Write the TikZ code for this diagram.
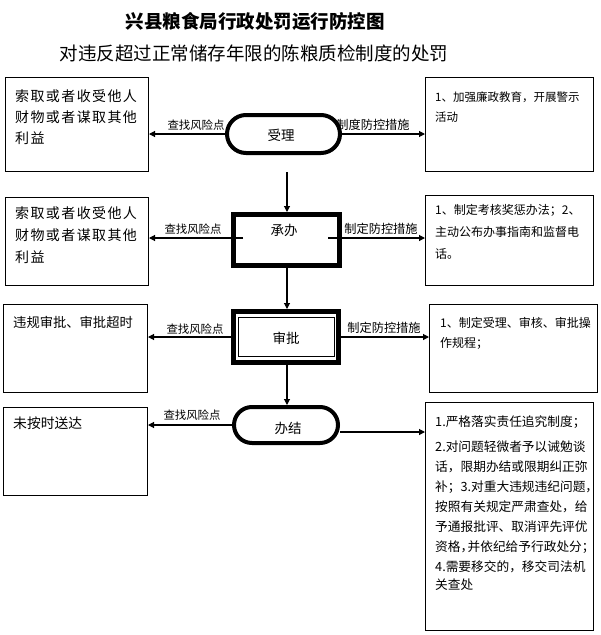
\documentclass[tikz,border=0pt]{standalone}
\usepackage{fontspec}
\setmainfont{Noto Sans CJK SC}
\newfontfamily\widecjk[LetterSpace=10]{Noto Sans CJK SC}
\usetikzlibrary{arrows.meta}
\newcommand\myfs[2]{\fontsize{#1}{#2}\selectfont}
\begin{document}
\begin{tikzpicture}[x=1pt,y=-1pt,
  box/.style={draw, line width=1pt, anchor=north west, inner sep=0pt},
  txt/.style={anchor=north west, inner sep=0pt, align=left},
  ctext/.style={inner sep=0pt, font=\myfs{13.5}{15}},
  lblq/.style={inner sep=0pt, font=\myfs{11.4}{13}},
  lblz/.style={inner sep=0pt, font=\myfs{12.2}{14}},
  arr/.style={line width=1.1pt, -{Triangle[length=6pt,width=6pt]}}]
\useasboundingbox (0,0) rectangle (601,635);

% titles
\node[inner sep=0pt, font=\bfseries\myfs{18.5}{20}] (title) at (255,21) {兴县粮食局行政处罚运行防控图};
\node[inner sep=0pt, font=\myfs{18.5}{20}] (sub) at (254,53) {对违反超过正常储存年限的陈粮质检制度的处罚};

% left boxes
\node[box, minimum width=143pt, minimum height=94pt] (l1) at (5,77) {};
\node[txt, font=\widecjk\myfs{14}{21}] (l1t) at (15,89) {索取或者收受他人\\财物或者谋取其他\\利益};
\node[box, minimum width=143pt, minimum height=88pt] (l2) at (5,197) {};
\node[txt, font=\widecjk\myfs{14}{22}] (l2t) at (15,206) {索取或者收受他人\\财物或者谋取其他\\利益};
\node[box, minimum width=144pt, minimum height=88pt] (l3) at (3,304) {};
\node[txt, font=\myfs{13.3}{16}] (l3t) at (13,316) {违规审批、审批超时};
\node[box, minimum width=144pt, minimum height=88pt] (l4) at (3,407) {};
\node[txt, font=\myfs{13.8}{16}] (l4t) at (13,417) {未按时送达};

% right boxes
\node[box, minimum width=168pt, minimum height=94pt] (r1) at (425,77) {};
\node[txt, font=\myfs{11.5}{20}] (r1t) at (435,92) {1、加强廉政教育，开展警示\\活动};
\node[box, minimum width=168pt, minimum height=90pt] (r2) at (425,195) {};
\node[txt, font=\myfs{12}{22}] (r2t) at (435,204.5) {1、制定考核奖惩办法；2、\\主动公布办事指南和监督电\\话。};
\node[box, minimum width=168pt, minimum height=88pt] (r3) at (429,304) {};
\node[txt, font=\myfs{12}{19.5}] (r3t) at (440,317.5) {1、制定受理、审核、审批操\\作规程；};
\node[box, minimum width=168pt, minimum height=228pt] (r4) at (425,402) {};
\node[txt, font=\myfs{12.7}{20}] (r4t) at (435,416) {1.严格落实责任追究制度；\\[5pt]2.对问题轻微者予以诫勉谈\\话，限期办结或限期纠正弥\\补；3.对重大违规违纪问题，\\按照有关规定严肃查处，给\\予通报批评、取消评先评优\\资格，\kern-0.45em 并依纪给予行政处分；\\4.需要移交的，移交司法机\\[-2pt]关查处};

% centre column
\node[draw, line width=4pt, rounded corners=19pt, minimum width=113pt, minimum height=38pt, inner sep=0pt] (sl) at (283.5,134) {};
\node[ctext] (slt) at (281,135) {受理};
\node[draw, line width=5pt, minimum width=106pt, minimum height=51pt, inner sep=0pt] (cb) at (286.5,240) {};
\node[ctext] (cbt) at (284,230) {承办};
\node[draw, line width=5pt, minimum width=105pt, minimum height=51pt, inner sep=0pt] (sp) at (286,337) {};
\node[draw, line width=1pt, minimum width=96pt, minimum height=39pt, inner sep=0pt] (spi) at (286,336.5) {};
\node[ctext] (spt) at (286,338) {审批};
\node[draw, line width=4pt, rounded corners=18pt, minimum width=104pt, minimum height=36pt, inner sep=0pt] (bj) at (286,425) {};
\node[ctext] (bjt) at (288,428) {办结};

% vertical flow
\coordinate (v0) at (287,172);
\draw[arr] (v0) -- (v0 |- cb.north);
\draw[arr] (v0 |- cb.south) -- (v0 |- sp.north);
\draw[arr] (v0 |- sp.south) -- (v0 |- bj.north);

% horizontal arrows
\draw[arr] (sl.west) -- (l1.east |- sl.west);
\draw[arr] (sl.east) -- (r1.west |- sl.east);
\coordinate (c2l) at (243,238);
\coordinate (c2r) at (328,238);
\draw[arr] (c2l) -- (l2.east |- c2l);
\draw[arr] (c2r) -- (r2.west |- c2r);
\draw[arr] (sp.west) -- (l3.east |- sp.west);
\draw[arr] (sp.east) -- (r3.west |- sp.east);
\draw[arr] (bj.west) -- (l4.east |- bj.west);
\draw[arr] ([yshift=-7pt]bj.east) -- ([yshift=-7pt]bj.east -| r4.west);

% labels
\node[lblq] (q1) at (196,125) {查找风险点};
\node[lblz] (z1) at (373,125) {制度防控措施};
\node[lblq] (q2) at (193,229) {查找风险点};
\node[lblz] (z2) at (381,229) {制定防控措施};
\node[lblq] (q3) at (195,329) {查找风险点};
\node[lblz] (z3) at (384,328) {制定防控措施};
\node[lblq] (q4) at (192,415) {查找风险点};
\end{tikzpicture}
\end{document}
